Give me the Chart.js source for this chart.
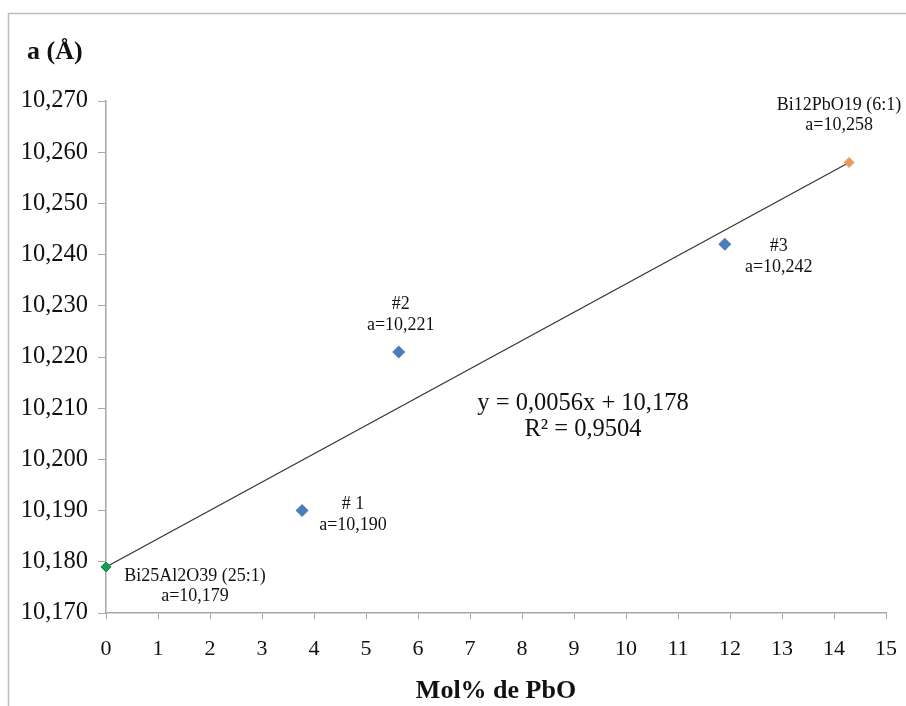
<!DOCTYPE html>
<html>
<head>
<meta charset="utf-8">
<script src="https://cdn.jsdelivr.net/npm/chart.js@4/dist/chart.umd.min.js"></script>
<style>
  html, body { margin: 0; padding: 0; background: #fff; }
  #wrap { width: 906px; height: 706px; position: relative; }
</style>
</head>
<body>
<div id="wrap"><canvas id="chart"></canvas></div>
<script>
// Dados: parâmetro de rede a (Å) vs Mol% de PbO
const sampleNames = ["# 1", "#2", "#3"];
const sampleX = [3.77, 5.63, 11.9];
const sampleA = [10.190, 10.221, 10.242];

const phaseNames = ["Bi25Al2O39 (25:1)", "Bi12PbO19 (6:1)"];
const phaseX = [0, 14.29];
const phaseA = [10.179, 10.258];
const phaseColors = ["#13a04f", "#ee9a55"];

// linha de tendência (extremos)
const trendX = [0, 14.29];
const trendA = [10.179, 10.258];
const trendEquation = ["y = 0,0056x + 10,178", "R² = 0,9504"];

const FONT = "'Liberation Serif', 'Times New Roman', serif";
const fmt = (v) => v.toFixed(3).replace(".", ",");

// deslocamento (px) dos rótulos em relação ao marcador
const sampleLabelOffsets = [[51, -6], [2, -48], [54, 2]];
const phaseLabelOffsets = [[89, 9], [-10, -57]];

const labelsPlugin = {
  id: "labels",
  beforeDraw(chart) {
    const ctx = chart.ctx;
    ctx.save();
    ctx.strokeStyle = "#bdbdbd";
    ctx.lineWidth = 1.5;
    ctx.strokeRect(8.5, 13.5, 1200, 1200);
    ctx.restore();
  },
  afterDraw(chart) {
    const ctx = chart.ctx;
    const xs = chart.scales.x, ys = chart.scales.y;
    ctx.save();
    ctx.fillStyle = "#111";
    ctx.textAlign = "center";
    ctx.textBaseline = "middle";

    ctx.font = "18px " + FONT;
    sampleNames.forEach((name, i) => {
      const px = xs.getPixelForValue(sampleX[i]) + sampleLabelOffsets[i][0];
      const py = ys.getPixelForValue(sampleA[i]) + sampleLabelOffsets[i][1];
      ctx.fillText(name, px, py);
      ctx.fillText("a=" + fmt(sampleA[i]), px, py + 21);
    });
    phaseNames.forEach((name, i) => {
      const px = xs.getPixelForValue(phaseX[i]) + phaseLabelOffsets[i][0];
      const py = ys.getPixelForValue(phaseA[i]) + phaseLabelOffsets[i][1];
      ctx.fillText(name, px, py);
      ctx.fillText("a=" + fmt(phaseA[i]), px, py + 20);
    });

    // equação da tendência
    ctx.font = "24.5px " + FONT;
    ctx.fillText(trendEquation[0], 583, 404);
    ctx.fillText(trendEquation[1], 583, 430);

    // títulos dos eixos
    ctx.font = "bold 26px " + FONT;
    ctx.textAlign = "left";
    ctx.fillText("a (Å)", 27, 52);
    ctx.textAlign = "center";
    ctx.fillText("Mol% de PbO", (chart.chartArea.left + chart.chartArea.right) / 2, 691);
    ctx.restore();
  },
};

new Chart(document.getElementById("chart"), {
  type: "scatter",
  data: {
    datasets: [
      {
        type: "line",
        label: "Tendência",
        data: trendX.map((x, i) => ({ x: x, y: trendA[i] })),
        borderColor: "#333",
        borderWidth: 1.2,
        pointRadius: 0,
        fill: false,
        clip: false,
        order: 2,
      },
      {
        label: "Amostras",
        data: sampleX.map((x, i) => ({ x: x, y: sampleA[i] })),
        pointStyle: "rectRot",
        pointRadius: 6.5,
        backgroundColor: "#4a7ebb",
        borderColor: "#4a7ebb",
        borderWidth: 0,
        clip: false,
        order: 1,
      },
      {
        label: "Fases",
        data: phaseX.map((x, i) => ({ x: x, y: phaseA[i] })),
        pointStyle: "rectRot",
        pointRadius: 5,
        backgroundColor: phaseColors,
        borderColor: ["#0d8a40", "#c9a58a"],
        borderWidth: 1,
        clip: false,
        order: 0,
      },
    ],
  },
  options: {
    responsive: true,
    maintainAspectRatio: false,
    animation: false,
    layout: { padding: { left: 0, top: 101, right: 20, bottom: 0 } },
    plugins: {
      legend: { display: false },
      tooltip: { enabled: false },
    },
    scales: {
      x: {
        type: "linear",
        min: 0,
        max: 15,
        ticks: {
          stepSize: 1,
          color: "#111",
          padding: 17,
          font: { family: FONT, size: 22 },
        },
        grid: { drawOnChartArea: false, drawTicks: true, tickLength: 6, color: "#a6a6a6" },
        border: { display: true, color: "#a6a6a6", width: 1.5 },
        afterFit(scale) {
          scale.height = 93;
          scale.paddingLeft = 0;
          scale.paddingRight = 0;
        },
      },
      y: {
        type: "linear",
        min: 10.17,
        max: 10.27,
        ticks: {
          stepSize: 0.01,
          color: "#111",
          padding: 10,
          font: { family: FONT, size: 24.5 },
          callback: (v) => fmt(v),
        },
        grid: { drawOnChartArea: false, drawTicks: true, tickLength: 8, color: "#a6a6a6" },
        border: { display: true, color: "#a6a6a6", width: 1.5 },
        afterFit(scale) {
          scale.width = 106;
          scale.paddingTop = 0;
          scale.paddingBottom = 0;
        },
      },
    },
  },
  plugins: [labelsPlugin],
});
</script>
</body>
</html>
